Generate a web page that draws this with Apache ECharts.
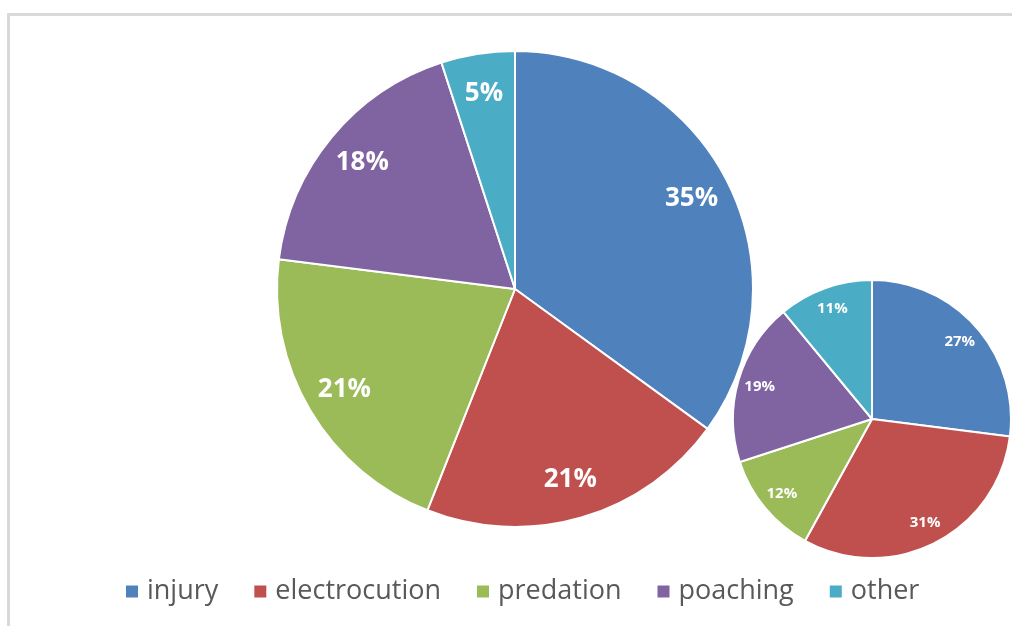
<!DOCTYPE html>
<html>
<head>
<meta charset="utf-8">
<script src="https://cdn.jsdelivr.net/npm/echarts@6/dist/echarts.min.js"></script>
<style>
    html, body { margin: 0; padding: 0; background: #fff; }
    #frame { position: absolute; left: 7px; top: 13px; width: 1010px; height: 620px; border-left: 3px solid #d9d9d9; border-top: 3px solid #d9d9d9; }
    #main { position: absolute; left: 0; top: 0; width: 1012px; height: 626px; }
</style>
</head>
<body>
<div id="frame"></div>
<div id="main"></div>
<script>
//类别
var categories = ["injury", "electrocution", "predation", "poaching", "other"];
//大饼图 (%)
var bigValues = [35, 21, 21, 18, 5];
//小饼图 (%)
var smallValues = [27, 31, 12, 19, 11];
var colors = ["#4f81bd", "#c0504d", "#9bbb59", "#8064a2", "#4bacc6"];

function toData(values) {
    var arr = [];
    for (var i = 0; i < categories.length; i++) {
        arr.push({ name: categories[i], value: values[i] });
    }
    return arr;
}

//可见的饼
function pieSeries(values, center, r) {
    return {
        type: 'pie',
        center: center,
        radius: [0, r],
        startAngle: 90,
        clockwise: true,
        silent: true,
        animation: false,
        itemStyle: { borderColor: '#fff', borderWidth: 2 },
        label: { show: false },
        labelLine: { show: false },
        data: toData(values)
    };
}

//只用于放标签的透明圆环（标签在约0.82r处）
function labelSeries(values, center, r, fontSize) {
    return {
        type: 'pie',
        center: center,
        radius: [r * 0.64, r],
        startAngle: 90,
        clockwise: true,
        silent: true,
        animation: false,
        legendHoverLink: false,
        itemStyle: { color: 'rgba(0,0,0,0)', borderWidth: 0 },
        label: {
            show: true,
            position: 'inside',
            formatter: '{c}%',
            color: '#fff',
            fontFamily: '"Open Sans", Lato, sans-serif',
            fontWeight: 'bold',
            fontSize: fontSize
        },
        labelLine: { show: false },
        data: toData(values)
    };
}

var myChart = echarts.init(document.getElementById('main'), null, { renderer: 'canvas' });

var option = {
    color: colors,
    legend: {
        bottom: 16,
        left: 121,
        icon: 'rect',
        itemWidth: 12,
        itemHeight: 12,
        itemGap: 36,
        selectedMode: false,
        data: categories,
        itemStyle: { borderWidth: 0 },
        textStyle: {
            color: '#595959',
            fontSize: 27,
            padding: [0, 0, 0, 4],
            fontFamily: '"Open Sans", Lato, sans-serif'
        }
    },
    series: [
        pieSeries(bigValues, [515, 289], 238),
        pieSeries(smallValues, [872, 419], 139),
        labelSeries(bigValues, [515, 289], 238, 26),
        labelSeries(smallValues, [872, 419], 139, 15)
    ]
};

myChart.setOption(option);
</script>
</body>
</html>
